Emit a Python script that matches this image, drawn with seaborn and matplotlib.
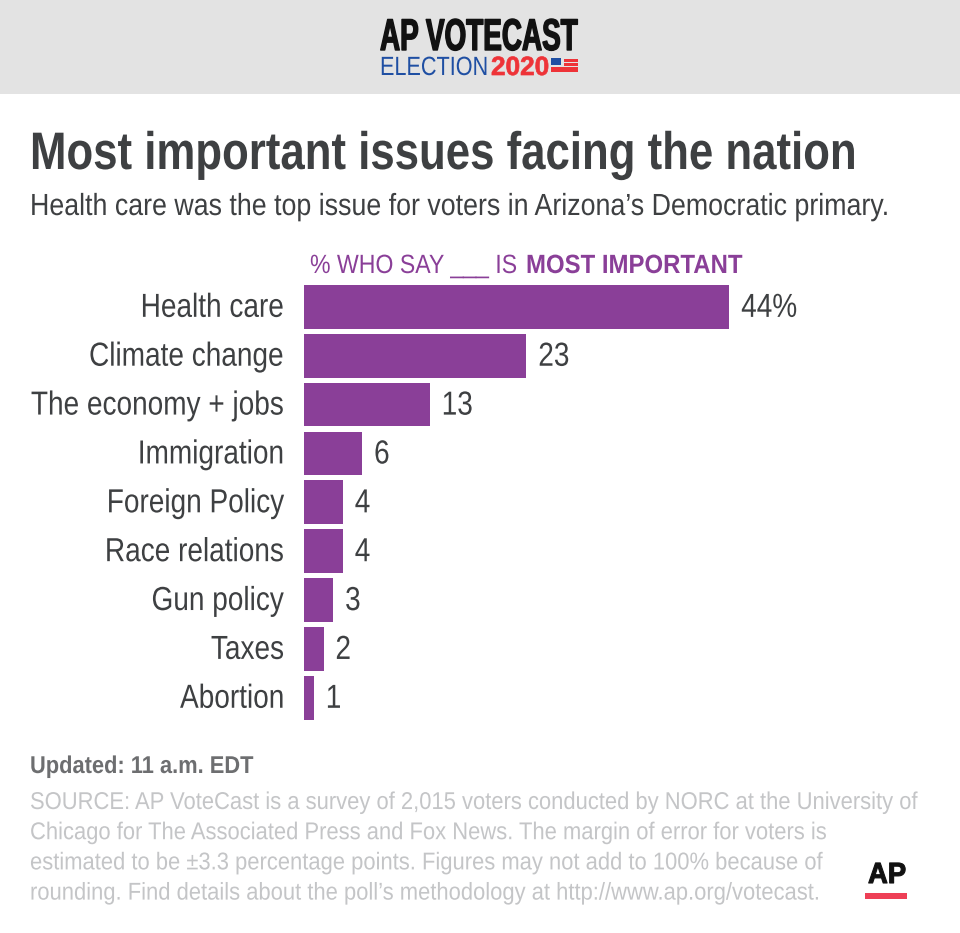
import matplotlib
matplotlib.use("Agg")
import matplotlib.pyplot as plt
from matplotlib.patches import Rectangle
from matplotlib.patheffects import AbstractPathEffect
from matplotlib.transforms import Affine2D
import pandas as pd
import seaborn as sns

issues = ["Health care", "Climate change", "The economy + jobs", "Immigration",
          "Foreign Policy", "Race relations", "Gun policy", "Taxes", "Abortion"]
shares = [44, 23, 13, 6, 4, 4, 3, 2, 1]
value_labels = ["44%", "23", "13", "6", "4", "4", "3", "2", "1"]

W, H = 960, 933
PURPLE = "#8a3f98"
DARK = "#3e4042"

sns.set_theme(style="white")
plt.rcParams["font.family"] = ["Liberation Sans", "DejaVu Sans"]

fig = plt.figure(figsize=(W / 100, H / 100), dpi=100, facecolor="white")
renderer = fig.canvas.get_renderer()


class Tall(AbstractPathEffect):
    # the reference uses a condensed Arial, no installed font has that,
    # so set the text small enough for its width and stretch it upward from the baseline
    def __init__(self, sy, heavy=0):
        super().__init__()
        self.sy, self.heavy = sy, heavy

    def draw_path(self, renderer, gc, tpath, affine, rgbFace=None):
        if self.heavy:
            gc.set_linewidth(self.heavy)
            gc.set_foreground(rgbFace)
        renderer.draw_path(gc, tpath, Affine2D().scale(1, self.sy) + affine, rgbFace)


def condense(t, sx, heavy=0):
    t.set_fontsize(t.get_fontsize() * sx)
    t.set_path_effects([Tall(1 / sx, heavy)])


def txt(x, y, s, size, color=DARK, weight="normal", x1=None, sx=None, heavy=0):
    # x, y in image pixels, y is the baseline, x1 is where the text should end
    t = fig.text(x / W, 1 - y / H, s, fontsize=size, color=color, weight=weight,
                 ha="left", va="baseline")
    if x1 is not None:
        sx = (x1 - x) / t.get_window_extent(renderer).width
    condense(t, sx, heavy)
    return sx


def box(x, y, w, h, color):
    fig.add_artist(Rectangle((x / W, 1 - (y + h) / H), w / W, h / H, color=color,
                             lw=0, transform=fig.transFigure))


# header band and logo
box(0, 0, W, 94, "#e3e3e3")
txt(380, 50, "AP VOTECAST", 32, color="#111111", weight="bold", x1=578, heavy=1.0)
txt(380, 75, "ELECTION", 19, color="#1f4fa3", x1=488)
txt(491, 75, "2020", 19, color="#ee3338", weight="bold", x1=549, heavy=0.5)
box(551, 58, 10, 7, "#1f4fa3")
box(564, 58.5, 13.5, 3, "#ee3338")
box(564, 63, 13.5, 2.5, "#ee3338")
box(551, 67.5, 26.5, 4, "#ee3338")

# titles
txt(30, 169, "Most important issues facing the nation", 38, weight="bold", x1=855)
txt(30, 215, "Health care was the top issue for voters in Arizona\u2019s Democratic primary.",
    22, x1=887)

# bars
ax = fig.add_axes([304.3 / W, 1 - 722.2 / H, 655.7 / W, 439.8 / H])
data = pd.DataFrame({"issue": issues, "share": shares})
sns.barplot(data=data, y="issue", x="share", color=PURPLE, saturation=1, width=0.894,
            linewidth=0, ax=ax)
ax.set_xlim(0, 655.7 / 9.66)
ax.set_xlabel("")
ax.set_ylabel("")
ax.set_xticks([])
ax.tick_params(axis="y", length=0, pad=14.5, labelsize=24, labelcolor=DARK)
sns.despine(ax=ax, left=True, bottom=True)
ax.patch.set_alpha(0)
for lab in ax.get_yticklabels():
    condense(lab, 0.84)
for bar, lab in zip(ax.patches, value_labels):
    t = ax.annotate(lab, (bar.get_width(), bar.get_y() + bar.get_height() / 2),
                    xytext=(8.5, -2.2), textcoords="offset points", va="center",
                    fontsize=24, color=DARK)
    condense(t, 0.84)

# column heading
txt(310, 273, "% WHO SAY ___ IS", 19, color=PURPLE, x1=517)
txt(526, 273, "MOST IMPORTANT", 19, color=PURPLE, weight="bold", x1=742)

# footer
txt(30, 773, "Updated: 11 a.m. EDT", 17.5, color="#6d6e70", weight="bold", x1=253)
source = ["SOURCE: AP VoteCast is a survey of 2,015 voters conducted by NORC at the University of",
          "Chicago for The Associated Press and Fox News. The margin of error for voters is",
          "estimated to be \u00b13.3 percentage points. Figures may not add to 100% because of",
          "rounding. Find details about the poll\u2019s methodology at http://www.ap.org/votecast."]
src_sx = txt(30, 809, source[0], 17.5, color="#c4c5c7", x1=915)
for i, line in enumerate(source[1:], start=1):
    txt(30, 809 + i * 30.2, line, 17.5, color="#c4c5c7", sx=src_sx)

# AP mark
txt(868, 883, "AP", 21, color="#111111", weight="bold", x1=906, heavy=0.8)
box(865, 893, 42, 6, "#ee3f56")

fig.savefig("out.png", dpi=100, facecolor="white")
